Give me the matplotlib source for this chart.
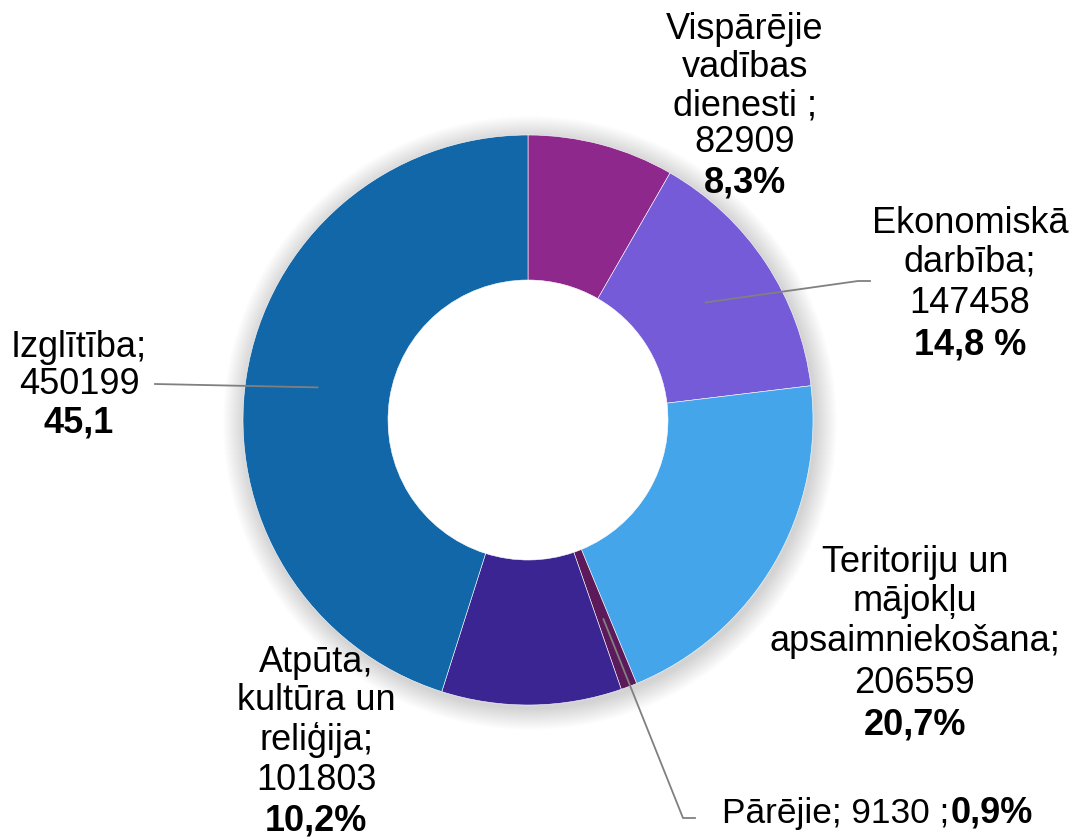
import numpy as np
import matplotlib
matplotlib.use("Agg")
import matplotlib.pyplot as plt
from matplotlib.patches import Circle
from matplotlib.transforms import Affine2D

# data
categories = ["Vispārējie vadības dienesti", "Ekonomiskā darbība",
              "Teritoriju un mājokļu apsaimniekošana", "Pārējie",
              "Atpūta, kultūra un reliģija", "Izglītība"]
values = [82909, 147458, 206559, 9130, 101803, 450199]
pct_labels = ["8,3%", "14,8 %", "20,7%", "0,9%", "10,2%", "45,1"]
name_lines = [["Vispārējie", "vadības", "dienesti ;"],
              ["Ekonomiskā", "darbība;"],
              ["Teritoriju un", "mājokļu", "apsaimniekošana;"],
              ["Pārējie;"],
              ["Atpūta,", "kultūra un", "reliģija;"],
              ["Izglītība;"]]
colors = ["#8F288C", "#765BD9", "#44A5EA", "#5C1A5A", "#3A2593", "#1167A7"]

plt.rcParams['font.family'] = ['Liberation Sans', 'DejaVu Sans']

W, H = 1074, 839
fig = plt.figure(figsize=(W / 100, H / 100), dpi=100)
ax = fig.add_axes([0, 0, 1, 1])

cx, cy = 528, 420
R, ring = 285, 145

# soft shadow around the ring
for k in range(22):
    ax.add_patch(Circle((cx + 2, cy + 3), R + 22 - k, facecolor="black",
                        edgecolor="none", alpha=0.006, zorder=0))
ax.add_patch(Circle((cx, cy), R - ring + 1, facecolor="white",
                    edgecolor="none", zorder=1))

wedges, _ = ax.pie(values, colors=colors, startangle=90, counterclock=False,
                   center=(cx, cy), radius=R, frame=True,
                   wedgeprops=dict(width=ring, edgecolor="white", linewidth=0.4))
ax.set_xlim(0, W)
ax.set_ylim(H, 0)
ax.set_aspect("equal")
ax.axis("off")

# pie draws with y up; flip wedges into screen coordinates
flip = Affine2D().translate(-cx, -cy).scale(1, -1).translate(cx, cy)
for w in wedges:
    w.set_transform(flip + ax.transData)
    w.set_zorder(2)

fs = 26
tot = sum(values)
cum = np.cumsum([0] + values[:-1])


def mid_point(i, r=213):
    a = np.deg2rad(90 - 360 * (cum[i] + values[i] / 2) / tot)
    return cx + r * np.cos(a), cy - r * np.sin(a)


def block(i, x, baselines):
    lines = name_lines[i] + [f"{values[i]}"]
    for s, y in zip(lines, baselines[:-1]):
        ax.text(x, y, s, ha="center", va="baseline", fontsize=fs, zorder=5)
    ax.text(x, baselines[-1], pct_labels[i], ha="center", va="baseline",
            fontsize=fs, fontweight="bold", zorder=5)


block(0, 745, [39, 77, 115, 152, 193])
block(1, 970, [233, 272, 313, 355])
block(2, 915, [572, 611, 651, 693, 735])
block(4, 316, [672, 710, 750, 790, 831])
block(5, 79, [357, 394, 432])

# Pārējie: single line, bold percentage
ax.text(949, 823, f"{name_lines[3][0]} {values[3]} ;", ha="right",
        va="baseline", fontsize=fs - 0.6, zorder=5)
ax.text(951, 823, pct_labels[3], ha="left", va="baseline", fontsize=fs,
        fontweight="bold", zorder=5)

# leader lines
lc = "#808080"
x0, y0 = mid_point(1)
ax.plot([x0, 858, 870], [y0, 281, 281], color=lc, lw=1.3, zorder=4)
x0, y0 = mid_point(5)
ax.plot([x0, 155], [y0, 384], color=lc, lw=1.3, zorder=4)
x0, y0 = mid_point(3)
ax.plot([x0, 683, 695], [y0, 818, 818], color=lc, lw=1.3, zorder=4)

fig.savefig("out.png", dpi=100, facecolor="white")
